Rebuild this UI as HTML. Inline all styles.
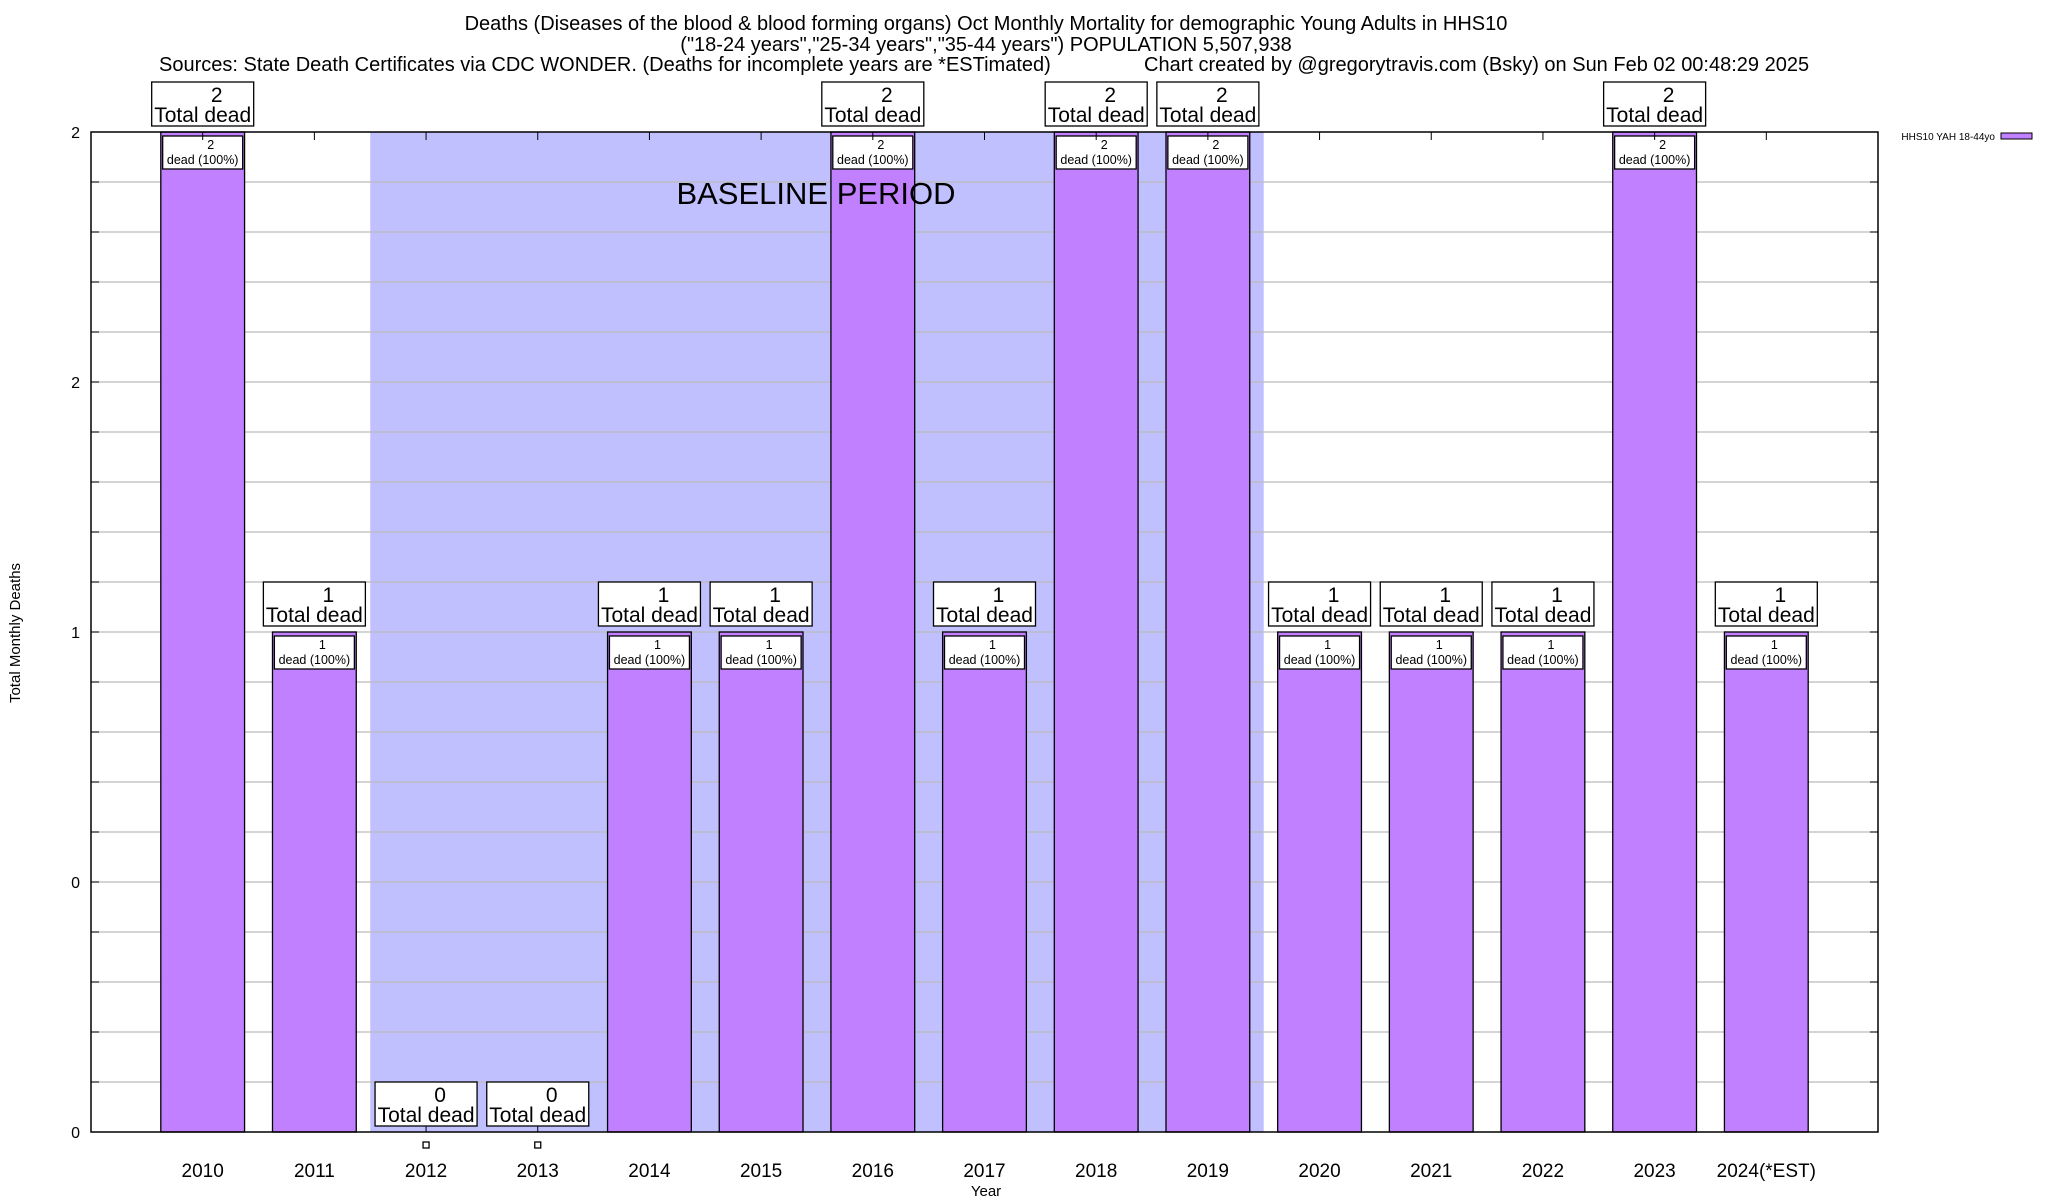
<!DOCTYPE html>
<html><head><meta charset="utf-8"><style>
html,body{margin:0;padding:0;background:#fff;}
svg{display:block;font-family:"Liberation Sans",sans-serif;}
</style></head><body>
<svg id="chart" width="2048" height="1200" viewBox="0 0 2048 1200" xmlns="http://www.w3.org/2000/svg">
<g font-size="20" fill="#000">
<text x="986" y="30" text-anchor="middle">Deaths (Diseases of the blood &amp; blood forming organs) Oct Monthly Mortality for demographic Young Adults in HHS10</text>
<text x="986" y="51" text-anchor="middle">("18-24 years","25-34 years","35-44 years") POPULATION 5,507,938</text>
<text x="159" y="71">Sources: State Death Certificates via CDC WONDER. (Deaths for incomplete years are *ESTimated)</text>
<text x="1144" y="71">Chart created by @gregorytravis.com (Bsky) on Sun Feb 02 00:48:29 2025</text>
</g>
<g id="plot"></g>
<text x="986" y="1196" font-size="15" text-anchor="middle">Year</text>
<text transform="translate(20,633) rotate(-90)" font-size="15" text-anchor="middle">Total Monthly Deaths</text>
<g>
<text x="1995" y="140" font-size="10" text-anchor="end">HHS10 YAH 18-44yo</text>
<rect x="2001" y="133" width="31" height="6" fill="#c080ff" stroke="#000" stroke-width="1"/>
</g>
</svg>
<script>
const categories = ["2010","2011","2012","2013","2014","2015","2016","2017","2018","2019","2020","2021","2022","2023","2024(*EST)"];
const deaths = [2,1,0,0,1,1,2,1,2,2,1,1,1,2,1];
const yTickValues = [0,0.5,1,1.5,2];
const yTickLabels = ["0","0","1","2","2"];
const baselineStart = "2012";
const baselineEnd = "2019";

const L=91,R=1878,T=132,B=1132,yMax=2;
const step=(R-L)/(categories.length+1);
const xs=i=>L+(i+1)*step;
const ys=v=>B-(v/yMax)*(B-T);
const NS="http://www.w3.org/2000/svg";
const g=document.getElementById('plot');
function mk(tag,attrs,parent){const e=document.createElementNS(NS,tag);for(const k in attrs)e.setAttribute(k,attrs[k]);(parent||g).appendChild(e);return e;}

// baseline shade
const bi=categories.indexOf(baselineStart), be=categories.indexOf(baselineEnd);
const shade=mk('rect',{x:xs(bi)-step/2,y:T,width:(be-bi+1)*step,height:B-T,fill:'#c0c0ff'});



// grid lines
for(let k=1;k<20;k++){
  const y=B-k*(B-T)/20;
  const gl=mk('line',{x1:L,x2:R,y1:y,y2:y,stroke:'#bbb','stroke-width':1.3});
  
  
  mk('line',{x1:L,x2:L+8,y1:y,y2:y,stroke:'#000','stroke-width':1});
  mk('line',{x1:R-8,x2:R,y1:y,y2:y,stroke:'#000','stroke-width':1});
}
// y tick labels
yTickValues.forEach((v,i)=>{
  const t=mk('text',{x:80,y:ys(v)+6,'font-size':16,'text-anchor':'end'});
  t.textContent=yTickLabels[i];
  
  
});

// bars
categories.forEach((c,i)=>{
  const cx=xs(i),v=deaths[i],bw=step*0.75;
  if(v>0){
    const b=mk('rect',{x:cx-bw/2,y:ys(v),width:bw,height:B-ys(v),fill:'#c080ff',stroke:'#000','stroke-width':1.3});
    
    
    const ib=mk('rect',{x:cx-40,y:ys(v)+4,width:80,height:33,fill:'#fff',stroke:'#000','stroke-width':1.3});
    
    
    const t1=mk('text',{x:cx+8,y:ys(v)+17,'font-size':12.5,'text-anchor':'middle'});t1.textContent=v;
    const t2=mk('text',{x:cx,y:ys(v)+32,'font-size':12.5,'text-anchor':'middle'});t2.textContent='dead (100%)';
  } else {
    mk('line',{x1:cx,x2:cx,y1:B-8,y2:B,stroke:'#000','stroke-width':1});
    const sq=mk('rect',{x:cx-3,y:B+10,width:6,height:6,fill:'#fff',stroke:'#000','stroke-width':1.3});
    
    
  }
  const top=ys(v);
  const ob=mk('rect',{x:cx-51,y:top-50,width:102,height:44,fill:'#fff',stroke:'#000','stroke-width':1.3});
  
  
  const o1=mk('text',{x:cx+14,y:top-30,'font-size':21,'text-anchor':'middle'});o1.textContent=v;
  const o2=mk('text',{x:cx,y:top-10,'font-size':21,'text-anchor':'middle'});o2.textContent='Total dead';
  const xl=mk('text',{x:cx,y:1177,'font-size':19,'text-anchor':'middle'});xl.textContent=c;
  
  
  mk('line',{x1:cx,x2:cx,y1:T,y2:T+8,stroke:'#000','stroke-width':1});
});

const bt=mk('text',{x:816,y:204,'font-size':31,'text-anchor':'middle'});
bt.textContent='BASELINE PERIOD';



// frame
const fr=mk('rect',{x:L,y:T,width:R-L,height:B-T,fill:'none',stroke:'#000','stroke-width':1.5});


</script>
</body></html>
